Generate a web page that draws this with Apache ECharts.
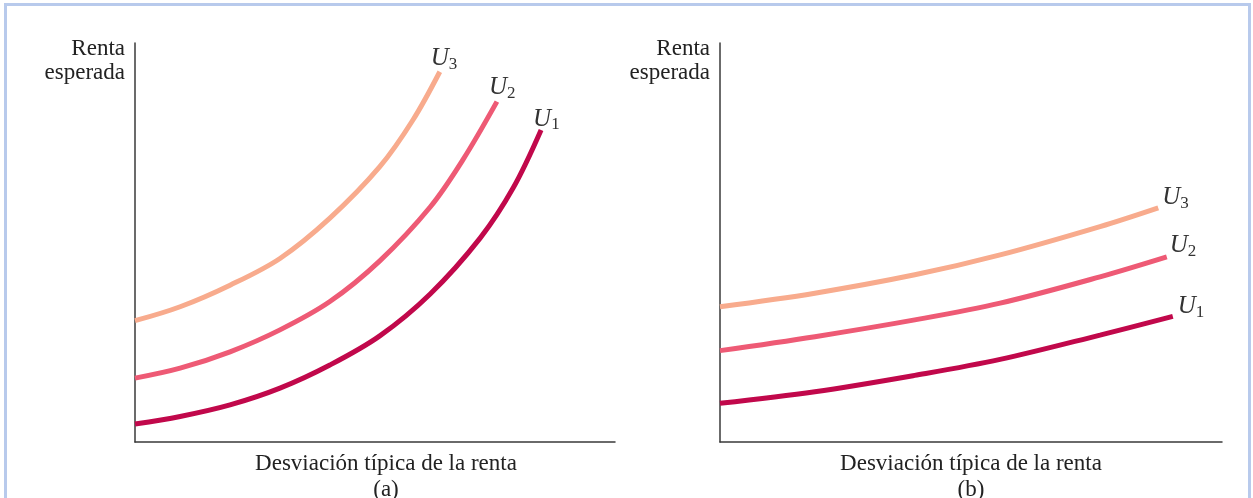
<!DOCTYPE html>
<html>
<head>
<meta charset="utf-8">
<script src="https://cdn.jsdelivr.net/npm/echarts@6/dist/echarts.min.js"></script>
<style>
    html, body { margin: 0; padding: 0; background: #fff; }
    .frame { position: absolute; left: 4px; top: 3px; width: 1241px; height: 500px; border: 3px solid #b8caec; border-bottom: none; }
    #chart { position: absolute; left: 0; top: 0; width: 1253px; height: 498px; }
</style>
</head>
<body>
<div class="frame"></div>
<div id="chart"></div>
<script>
//panel (a): curvas de indiferencia empinadas
const aU1 = [[0, 4.5], [9.4, 6.4], [19.8, 9.3], [30.2, 13.5], [40.6, 19.3], [51.0, 26.6], [61.5, 37.1], [71.9, 51.1], [78.8, 63.7], [84.6, 78.2]];
const aU2 = [[0, 16.0], [9.4, 18.5], [19.8, 22.6], [30.2, 28.1], [40.6, 35.2], [51.0, 45.4], [61.5, 58.9], [68.3, 70.7], [75.4, 85.3]];
const aU3 = [[0, 30.4], [9.4, 33.9], [19.8, 39.3], [30.2, 46.0], [40.6, 56.1], [51.0, 69.0], [57.9, 80.7], [63.5, 92.8]];

//panel (b): curvas planas
const bU1 = [[0, 9.7], [18.9, 12.6], [38.8, 16.7], [55.8, 20.7], [75.7, 26.8], [90.2, 31.5]];
const bU2 = [[0, 22.9], [18.9, 26.4], [38.8, 30.6], [55.8, 34.8], [75.7, 41.4], [89.0, 46.4]];
const bU3 = [[0, 33.9], [18.9, 37.3], [38.8, 41.9], [55.8, 46.9], [75.7, 54.0], [87.3, 58.7]];

const curveNames = ['1', '2', '3'];
const colors = ['#c1084b', '#ee5a75', '#f8ab8d'];
const xName = 'Desviación típica de la renta';
const yName = 'Renta\nesperada';
const panelNames = ['(a)', '(b)'];

const font = 'Liberation Serif';

function makeAxis(idx, isX) {
    let ax = {
        type: 'value',
        gridIndex: idx,
        min: 0,
        max: 100,
        axisLine: { show: true, onZero: false, lineStyle: { color: '#3a3a3a', width: 1.5 } },
        axisTick: { show: false },
        axisLabel: { show: false },
        splitLine: { show: false }
    };
    if (isX) {
        ax.name = xName + '\n' + panelNames[idx];
        ax.nameLocation = 'middle';
        ax.nameGap = 9;
        ax.nameTextStyle = {
            fontFamily: font, fontSize: 23, color: '#222', lineHeight: 26,
            verticalAlign: 'top', padding: idx === 0 ? [0, 0, 0, 22] : 0
        };
    } else {
        ax.name = yName;
        ax.nameLocation = 'end';
        ax.nameGap = 6;
        ax.nameTextStyle = {
            fontFamily: font, fontSize: 23, color: '#222', lineHeight: 24,
            align: 'right', verticalAlign: 'top', padding: [0, 10, 0, 0]
        };
    }
    return ax;
}

//offsets de las etiquetas U
const labelOffsets = [
    [[-8, -11], [-8, -14], [-9, -13]],
    [[5, -10], [3, -11], [4, -10]]
];

function makeSeries(idx, data, k) {
    return {
        type: 'line',
        xAxisIndex: idx,
        yAxisIndex: idx,
        data: data,
        smooth: 0.35,
        showSymbol: false,
        silent: true,
        lineStyle: { color: colors[k], width: 5, cap: 'butt' },
        endLabel: {
            show: true,
            position: 'right',
            distance: 0,
            offset: labelOffsets[idx][k],
            formatter: '{u|U}{s|' + curveNames[k] + '}',
            rich: {
                u: { fontFamily: font, fontStyle: 'italic', fontSize: 25, color: '#333' },
                s: { fontFamily: font, fontSize: 17, color: '#333', padding: [12, 0, 0, 0] }
            }
        }
    };
}

let chart = echarts.init(document.getElementById('chart'));
chart.setOption({
    animation: false,
    grid: [
        { left: 135, top: 43, width: 480, height: 399, outerBoundsMode: 'none', containLabel: false },
        { left: 720, top: 43, width: 502, height: 399, outerBoundsMode: 'none', containLabel: false }
    ],
    xAxis: [makeAxis(0, true), makeAxis(1, true)],
    yAxis: [makeAxis(0, false), makeAxis(1, false)],
    series: [
        makeSeries(0, aU1, 0), makeSeries(0, aU2, 1), makeSeries(0, aU3, 2),
        makeSeries(1, bU1, 0), makeSeries(1, bU2, 1), makeSeries(1, bU3, 2)
    ]
});
</script>
</body>
</html>
